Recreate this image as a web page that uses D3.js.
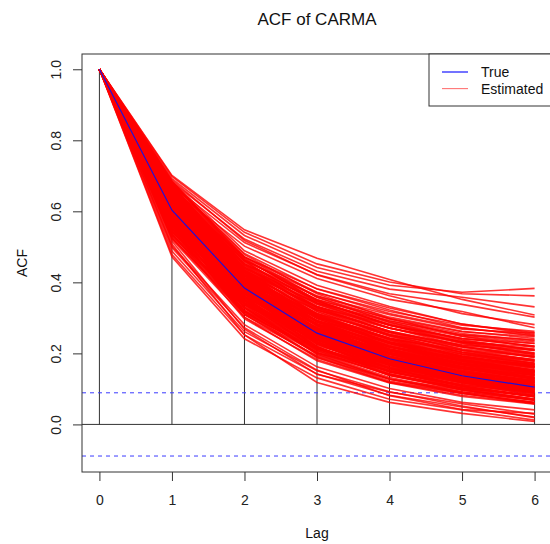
<!DOCTYPE html>
<html>
<head>
<meta charset="utf-8">
<script src="https://cdn.jsdelivr.net/npm/d3@7"></script>
<style>
  html, body { margin: 0; padding: 0; background: #fff; }
  svg { display: block; font-family: "Liberation Sans", Arial, Helvetica, sans-serif; }
</style>
</head>
<body>
<svg id="chart" width="550" height="544"></svg>
<script>
// Lags shown on the x axis
const lags = [0, 1, 2, 3, 4, 5, 6];
const xTicks = [0, 1, 2, 3, 4, 5, 6];
const yTicks = [0.0, 0.2, 0.4, 0.6, 0.8, 1.0];

// Autocorrelation at lag 0 is 1 by definition
const lag0 = 1;

// Theoretical ACF of the CARMA process
const trueAcf = [1, 0.603, 0.384, 0.257, 0.185, 0.137, 0.105];

// Sample ACF of the observed series (vertical bars)
const sampleAcf = [1, 0.58, 0.37, 0.24, 0.17, 0.12, 0.09];

// Approximate 95% bounds for white noise
const confBound = 0.089;

// ACF of each fitted model, lags 1..6
const estimatedAcf = [
  [0.521,0.302,0.193,0.128,0.097,0.072],
  [0.527,0.309,0.201,0.142,0.104,0.079],
  [0.533,0.328,0.224,0.158,0.121,0.093],
  [0.538,0.297,0.183,0.119,0.087,0.062],
  [0.544,0.321,0.212,0.149,0.112,0.084],
  [0.548,0.342,0.233,0.171,0.132,0.103],
  [0.552,0.311,0.188,0.127,0.092,0.068],
  [0.556,0.361,0.262,0.203,0.164,0.131],
  [0.561,0.328,0.207,0.139,0.098,0.071],
  [0.564,0.352,0.243,0.181,0.142,0.113],
  [0.567,0.318,0.202,0.152,0.123,0.101],
  [0.571,0.339,0.218,0.148,0.107,0.078],
  [0.574,0.373,0.272,0.213,0.174,0.144],
  [0.577,0.328,0.197,0.128,0.088,0.058],
  [0.581,0.362,0.243,0.172,0.124,0.093],
  [0.584,0.348,0.231,0.163,0.122,0.098],
  [0.586,0.383,0.284,0.224,0.183,0.162],
  [0.589,0.341,0.212,0.143,0.102,0.081],
  [0.592,0.372,0.253,0.184,0.133,0.104],
  [0.594,0.358,0.228,0.157,0.108,0.079],
  [0.597,0.393,0.292,0.233,0.194,0.172],
  [0.599,0.349,0.218,0.149,0.112,0.091],
  [0.602,0.382,0.262,0.193,0.142,0.113],
  [0.604,0.368,0.238,0.168,0.128,0.097],
  [0.606,0.403,0.302,0.243,0.204,0.183],
  [0.608,0.357,0.219,0.138,0.097,0.068],
  [0.611,0.392,0.273,0.202,0.153,0.122],
  [0.613,0.378,0.248,0.177,0.129,0.101],
  [0.616,0.412,0.313,0.254,0.213,0.192],
  [0.618,0.369,0.228,0.148,0.107,0.078],
  [0.621,0.402,0.283,0.212,0.162,0.133],
  [0.623,0.388,0.258,0.188,0.147,0.118],
  [0.626,0.422,0.322,0.263,0.223,0.202],
  [0.628,0.379,0.238,0.157,0.116,0.087],
  [0.631,0.413,0.292,0.221,0.172,0.141],
  [0.633,0.398,0.268,0.197,0.148,0.109],
  [0.636,0.432,0.333,0.272,0.232,0.212],
  [0.638,0.389,0.247,0.167,0.118,0.082],
  [0.641,0.422,0.302,0.231,0.182,0.152],
  [0.643,0.409,0.278,0.208,0.167,0.138],
  [0.646,0.441,0.342,0.283,0.242,0.221],
  [0.648,0.398,0.257,0.176,0.128,0.097],
  [0.651,0.431,0.312,0.242,0.191,0.162],
  [0.653,0.419,0.289,0.218,0.169,0.128],
  [0.656,0.452,0.352,0.292,0.252,0.232],
  [0.658,0.408,0.266,0.187,0.138,0.108],
  [0.661,0.442,0.322,0.251,0.202,0.171],
  [0.663,0.429,0.298,0.227,0.178,0.148],
  [0.666,0.462,0.362,0.302,0.262,0.242],
  [0.668,0.418,0.277,0.198,0.147,0.118],
  [0.671,0.451,0.332,0.261,0.211,0.182],
  [0.673,0.439,0.308,0.238,0.187,0.158],
  [0.676,0.471,0.372,0.312,0.271,0.251],
  [0.678,0.428,0.288,0.207,0.158,0.127],
  [0.672,0.459,0.342,0.272,0.221,0.189],
  [0.679,0.481,0.381,0.322,0.272,0.249],
  [0.669,0.448,0.318,0.248,0.198,0.168],
  [0.682,0.472,0.358,0.288,0.238,0.208],
  [0.684,0.489,0.392,0.332,0.282,0.258],
  [0.681,0.461,0.328,0.258,0.209,0.178],
  [0.532,0.342,0.252,0.201,0.172,0.151],
  [0.542,0.358,0.268,0.218,0.188,0.168],
  [0.551,0.371,0.281,0.229,0.198,0.179],
  [0.559,0.382,0.292,0.241,0.209,0.191],
  [0.569,0.391,0.302,0.252,0.218,0.198],
  [0.579,0.401,0.311,0.259,0.224,0.208],
  [0.588,0.412,0.322,0.271,0.233,0.218],
  [0.598,0.421,0.331,0.279,0.242,0.228],
  [0.609,0.432,0.342,0.291,0.252,0.238],
  [0.619,0.441,0.351,0.298,0.261,0.247],
  [0.629,0.452,0.361,0.309,0.268,0.257],
  [0.639,0.461,0.371,0.318,0.279,0.262],
  [0.649,0.471,0.382,0.328,0.283,0.253],
  [0.659,0.398,0.258,0.178,0.128,0.098],
  [0.667,0.418,0.279,0.191,0.138,0.108],
  [0.677,0.432,0.291,0.201,0.142,0.103],
  [0.674,0.409,0.262,0.171,0.122,0.088],
  [0.664,0.391,0.242,0.159,0.108,0.079],
  [0.654,0.388,0.249,0.168,0.119,0.091],
  [0.644,0.378,0.232,0.152,0.101,0.071],
  [0.634,0.368,0.228,0.149,0.108,0.078],
  [0.624,0.359,0.219,0.141,0.098,0.069],
  [0.614,0.348,0.209,0.138,0.101,0.078],
  [0.603,0.338,0.198,0.128,0.089,0.061],
  [0.593,0.329,0.201,0.132,0.092,0.068],
  [0.583,0.318,0.189,0.118,0.082,0.059],
  [0.573,0.309,0.191,0.122,0.088,0.062],
  [0.563,0.301,0.179,0.117,0.079,0.057],
  [0.601,0.389,0.279,0.218,0.181,0.158],
  [0.612,0.399,0.288,0.228,0.189,0.168],
  [0.622,0.411,0.298,0.232,0.192,0.161],
  [0.632,0.419,0.309,0.241,0.198,0.172],
  [0.642,0.429,0.318,0.249,0.208,0.181],
  [0.652,0.441,0.329,0.261,0.218,0.188],
  [0.662,0.449,0.338,0.271,0.228,0.199],
  [0.670,0.468,0.349,0.279,0.232,0.201],
  [0.680,0.478,0.368,0.298,0.248,0.218],
  [0.591,0.379,0.268,0.208,0.171,0.148],
  [0.582,0.369,0.258,0.198,0.162,0.139],
  [0.572,0.359,0.248,0.188,0.152,0.128],
  [0.562,0.351,0.241,0.182,0.148,0.122],
  [0.553,0.341,0.237,0.178,0.141,0.118],
  [0.543,0.331,0.229,0.171,0.138,0.112],
  [0.534,0.322,0.221,0.168,0.131,0.108],
  [0.524,0.312,0.212,0.158,0.127,0.101],
  [0.600,0.371,0.248,0.181,0.139,0.117],
  [0.610,0.381,0.258,0.188,0.147,0.121],
  [0.620,0.388,0.262,0.192,0.143,0.112],
  [0.630,0.398,0.272,0.202,0.158,0.128],
  [0.640,0.402,0.281,0.209,0.162,0.132],
  [0.650,0.412,0.283,0.212,0.168,0.139],
  [0.660,0.421,0.291,0.218,0.172,0.142],
  [0.591,0.362,0.238,0.171,0.129,0.108],
  [0.580,0.358,0.241,0.179,0.138,0.118],
  [0.570,0.348,0.232,0.168,0.131,0.109],
  [0.610,0.391,0.268,0.201,0.158,0.138],
  [0.620,0.398,0.278,0.208,0.168,0.148],
  [0.598,0.378,0.259,0.198,0.157,0.131],
  [0.630,0.408,0.288,0.219,0.178,0.152],
  [0.640,0.418,0.298,0.228,0.181,0.151],
  [0.526,0.318,0.216,0.161,0.128,0.104],
  [0.537,0.336,0.238,0.181,0.148,0.124],
  [0.546,0.318,0.203,0.139,0.103,0.081],
  [0.558,0.366,0.272,0.218,0.186,0.163],
  [0.566,0.334,0.214,0.147,0.111,0.088],
  [0.576,0.352,0.236,0.169,0.128,0.102],
  [0.585,0.376,0.268,0.207,0.169,0.143],
  [0.596,0.366,0.246,0.179,0.137,0.112],
  [0.605,0.394,0.282,0.219,0.178,0.154],
  [0.615,0.372,0.243,0.172,0.128,0.099],
  [0.625,0.431,0.331,0.271,0.231,0.209],
  [0.635,0.384,0.252,0.178,0.133,0.104],
  [0.645,0.436,0.327,0.262,0.219,0.193],
  [0.655,0.426,0.303,0.232,0.184,0.153],
  [0.665,0.456,0.346,0.281,0.236,0.211],
  [0.675,0.446,0.324,0.253,0.203,0.173],
  [0.685,0.466,0.349,0.279,0.229,0.196],
  [0.657,0.463,0.358,0.296,0.256,0.236],
  [0.647,0.452,0.346,0.287,0.248,0.228],
  [0.637,0.442,0.338,0.279,0.241,0.221],
  [0.627,0.418,0.306,0.243,0.203,0.178],
  [0.617,0.406,0.293,0.231,0.191,0.166],
  [0.607,0.386,0.268,0.203,0.163,0.137],
  [0.597,0.371,0.251,0.187,0.148,0.124],
  [0.587,0.354,0.233,0.166,0.124,0.097],
  [0.578,0.343,0.226,0.161,0.121,0.096],
  [0.568,0.338,0.227,0.166,0.129,0.106],
  [0.555,0.328,0.216,0.155,0.118,0.093],
  [0.545,0.346,0.248,0.191,0.156,0.134],
  [0.535,0.314,0.208,0.151,0.117,0.092],
  [0.649,0.392,0.262,0.192,0.148,0.121],
  [0.639,0.396,0.268,0.199,0.156,0.129],
  [0.629,0.392,0.266,0.196,0.152,0.123],
  [0.619,0.379,0.253,0.183,0.141,0.114],
  [0.609,0.366,0.241,0.174,0.134,0.109],
  [0.671,0.436,0.306,0.229,0.178,0.146],
  [0.661,0.434,0.311,0.239,0.191,0.162],
  [0.651,0.426,0.304,0.236,0.192,0.166],
  [0.641,0.412,0.291,0.222,0.176,0.149],
  [0.631,0.403,0.281,0.213,0.171,0.146],
  [0.692,0.532,0.442,0.392,0.372,0.383],
  [0.698,0.541,0.452,0.401,0.368,0.362],
  [0.683,0.522,0.431,0.381,0.358,0.331],
  [0.674,0.512,0.422,0.368,0.338,0.302],
  [0.701,0.548,0.468,0.408,0.352,0.308],
  [0.662,0.502,0.411,0.352,0.318,0.272],
  [0.688,0.518,0.421,0.362,0.312,0.281],
  [0.472,0.241,0.131,0.071,0.041,0.012],
  [0.478,0.252,0.142,0.082,0.049,0.021],
  [0.488,0.261,0.151,0.092,0.052,0.019],
  [0.498,0.272,0.153,0.081,0.042,0.031],
  [0.508,0.252,0.118,0.062,0.031,0.008],
  [0.502,0.281,0.162,0.101,0.062,0.041],
  [0.516,0.268,0.141,0.091,0.058,0.029]
];

const legendLabels = ["True", "Estimated"];
const legendColors = ["#0000ff", "rgba(255,0,0,0.55)"];

// Plot region
const plot = { left: 82, right: 552, top: 54, bottom: 472 };
const svg = d3.select("#chart");
const axisColor = "#333";

const x = d3.scaleLinear().domain([-0.24, 6.24]).range([plot.left, plot.right]);
const y = d3.scaleLinear().domain([-0.134, 1.043]).range([plot.bottom, plot.top]);

const line = d3.line().x((d, i) => x(lags[i])).y(d => y(d));

// Zero reference line
svg.append("line")
  .attr("x1", plot.left).attr("x2", plot.right)
  .attr("y1", y(0)).attr("y2", y(0))
  .attr("stroke", axisColor).attr("stroke-width", 1);

// Sample ACF bars
svg.append("g").selectAll("line").data(sampleAcf).join("line")
  .attr("x1", (d, i) => x(lags[i])).attr("x2", (d, i) => x(lags[i]))
  .attr("y1", y(0)).attr("y2", d => y(d))
  .attr("stroke", axisColor).attr("stroke-width", 1);

// White-noise bounds
svg.append("g").selectAll("line").data([confBound, -confBound]).join("line")
  .attr("x1", plot.left).attr("x2", plot.right)
  .attr("y1", d => y(d)).attr("y2", d => y(d))
  .attr("stroke", "#3a3aff").attr("stroke-width", 1)
  .attr("stroke-dasharray", "4,4");

// Estimated ACF curves
svg.append("g").selectAll("path").data(estimatedAcf).join("path")
  .attr("d", row => line([lag0, ...row]))
  .attr("fill", "none")
  .attr("stroke", "rgba(255,0,0,0.8)")
  .attr("stroke-width", 1.6);

// True ACF
svg.append("path")
  .attr("d", line(trueAcf))
  .attr("fill", "none")
  .attr("stroke", "#2010d8")
  .attr("stroke-width", 1.2);

// Frame
svg.append("rect")
  .attr("x", plot.left).attr("y", plot.top)
  .attr("width", plot.right - plot.left).attr("height", plot.bottom - plot.top)
  .attr("fill", "none").attr("stroke", axisColor).attr("stroke-width", 1);

// X axis
const xAxis = svg.append("g")
  .attr("transform", `translate(0,${plot.bottom})`)
  .call(d3.axisBottom(x).tickValues(xTicks).tickSize(9).tickPadding(14).tickFormat(d3.format("d")));
xAxis.select(".domain").remove();
xAxis.selectAll("line").attr("stroke", axisColor);
xAxis.selectAll("text").attr("font-size", 14).attr("fill", "#222")
  .attr("font-family", "Liberation Sans, Arial, sans-serif");

// Y axis with rotated labels
const yAxis = svg.append("g")
  .attr("transform", `translate(${plot.left},0)`)
  .call(d3.axisLeft(y).tickValues(yTicks).tickSize(9).tickFormat(d3.format(".1f")));
yAxis.select(".domain").remove();
yAxis.selectAll("line").attr("stroke", axisColor);
yAxis.selectAll("text")
  .attr("x", 0).attr("y", -21).attr("dy", null)
  .attr("transform", "rotate(-90)")
  .attr("text-anchor", "middle")
  .attr("font-size", 14).attr("fill", "#222")
  .attr("font-family", "Liberation Sans, Arial, sans-serif");

// Titles
svg.append("text")
  .attr("x", (plot.left + plot.right) / 2).attr("y", 25)
  .attr("text-anchor", "middle").attr("font-size", 17).attr("fill", "#111")
  .text("ACF of CARMA");

svg.append("text")
  .attr("x", (plot.left + plot.right) / 2).attr("y", 538)
  .attr("text-anchor", "middle").attr("font-size", 14).attr("fill", "#111")
  .text("Lag");

svg.append("text")
  .attr("transform", `translate(27,${(plot.top + plot.bottom) / 2}) rotate(-90)`)
  .attr("text-anchor", "middle").attr("font-size", 14).attr("fill", "#111")
  .text("ACF");

// Legend
const legend = svg.append("g");
legend.append("rect")
  .attr("x", 429).attr("y", plot.top)
  .attr("width", 140).attr("height", 52)
  .attr("fill", "#fff").attr("stroke", axisColor).attr("stroke-width", 1);
const items = legend.selectAll("g.item").data(legendLabels).join("g")
  .attr("class", "item")
  .attr("transform", (d, i) => `translate(0,${72 + i * 16.6})`);
items.append("line")
  .attr("x1", 442).attr("x2", 468).attr("y1", 0).attr("y2", 0)
  .attr("stroke", (d, i) => legendColors[i]).attr("stroke-width", 1.1);
items.append("text")
  .attr("x", 481).attr("y", 5)
  .attr("font-size", 14).attr("fill", "#111")
  .text(d => d);
</script>
</body>
</html>
